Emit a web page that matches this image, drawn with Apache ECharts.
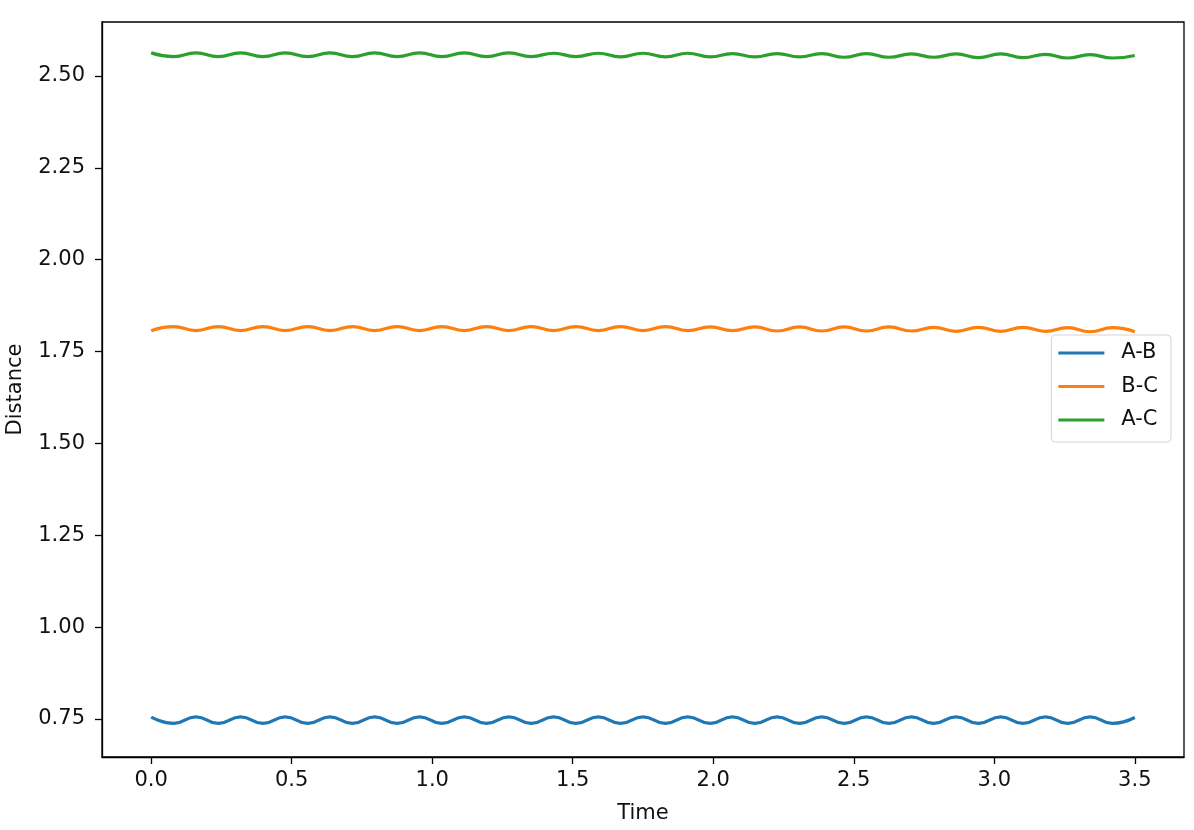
<!DOCTYPE html>
<html>
<head>
<meta charset="utf-8">
<script src="https://cdn.jsdelivr.net/npm/echarts@6/dist/echarts.min.js"></script>
<style>html,body{margin:0;padding:0;background:#fff;}#chart{width:1194px;height:830px;}</style>
</head>
<body>
<div id="chart"></div>
<script>
const time = [0.000, 0.080, 0.159, 0.239, 0.318, 0.398, 0.477, 0.557, 0.636, 0.716, 0.795, 0.875, 0.955, 1.034, 1.114, 1.193, 1.273, 1.352, 1.432, 1.511, 1.591, 1.670, 1.750, 1.830, 1.909, 1.989, 2.068, 2.148, 2.227, 2.307, 2.386, 2.466, 2.545, 2.625, 2.705, 2.784, 2.864, 2.943, 3.023, 3.102, 3.182, 3.261, 3.341, 3.420, 3.500];
const seriesNames = ["A-B", "B-C", "A-C"];
const abValues = [0.755, 0.738, 0.756, 0.738, 0.756, 0.738, 0.756, 0.738, 0.756, 0.738, 0.756, 0.738, 0.756, 0.738, 0.756, 0.738, 0.756, 0.738, 0.756, 0.738, 0.756, 0.738, 0.756, 0.738, 0.756, 0.738, 0.756, 0.738, 0.756, 0.738, 0.756, 0.738, 0.756, 0.738, 0.756, 0.738, 0.756, 0.738, 0.756, 0.738, 0.756, 0.738, 0.756, 0.738, 0.754];
const bcValues = [1.807, 1.818, 1.807, 1.818, 1.807, 1.818, 1.807, 1.818, 1.807, 1.818, 1.807, 1.818, 1.807, 1.818, 1.807, 1.818, 1.807, 1.818, 1.807, 1.818, 1.807, 1.818, 1.807, 1.818, 1.807, 1.817, 1.807, 1.817, 1.806, 1.817, 1.806, 1.817, 1.806, 1.817, 1.806, 1.816, 1.805, 1.816, 1.805, 1.816, 1.805, 1.815, 1.804, 1.815, 1.804];
const acValues = [2.563, 2.553, 2.563, 2.553, 2.563, 2.553, 2.563, 2.553, 2.563, 2.553, 2.563, 2.553, 2.563, 2.553, 2.563, 2.553, 2.563, 2.553, 2.562, 2.553, 2.562, 2.552, 2.562, 2.552, 2.562, 2.552, 2.561, 2.552, 2.561, 2.552, 2.561, 2.551, 2.561, 2.551, 2.560, 2.551, 2.560, 2.550, 2.560, 2.550, 2.559, 2.549, 2.558, 2.549, 2.556];
const xTicks = [0.0, 0.5, 1.0, 1.5, 2.0, 2.5, 3.0, 3.5];
const yTicks = [0.75, 1.00, 1.25, 1.50, 1.75, 2.00, 2.25, 2.50];
const colors = ["#1f77b4", "#ff7f0e", "#2ca02c"];

const font = "DejaVu Sans";
const chart = echarts.init(document.getElementById('chart'), null, {renderer: 'canvas'});
const allValues = [abValues, bcValues, acValues];
chart.setOption({
  animation: false,
  backgroundColor: '#fff',
  color: colors,
  grid: {left: 102, right: 10, top: 22, bottom: 73, show: true, borderColor: '#000', borderWidth: 1.3,
         backgroundColor: 'transparent', containLabel: false, outerBoundsMode: 'none'},
  legend: {
    orient: 'vertical', right: 23, top: 335,
    backgroundColor: '#fff', borderColor: '#d4d4d4', borderWidth: 1, borderRadius: 4,
    padding: [6, 13, 10, 7], itemGap: 9.5, itemWidth: 46, itemHeight: 3, icon: 'rect',
    textStyle: {fontFamily: font, fontSize: 21, color: '#111', lineHeight: 24, padding: [0, 0, 0, 12]},
    data: seriesNames
  },
  xAxis: {
    type: 'value', min: -0.175, max: 3.675,
    name: 'Time', nameLocation: 'middle', nameGap: 46,
    nameTextStyle: {fontFamily: font, fontSize: 21, color: '#111'},
    axisLine: {show: true, onZero: false, lineStyle: {color: '#000', width: 1.3}},
    axisTick: {show: true, length: 7, customValues: xTicks, lineStyle: {color: '#000', width: 1.3}},
    axisLabel: {customValues: xTicks, fontFamily: font, fontSize: 21, color: '#111', margin: 13, formatter: v => v.toFixed(1)},
    splitLine: {show: false}
  },
  yAxis: {
    type: 'value', min: 0.6466, max: 2.647,
    name: 'Distance', nameLocation: 'middle', nameGap: 76,
    nameTextStyle: {fontFamily: font, fontSize: 21, color: '#111'},
    axisLine: {show: true, onZero: false, lineStyle: {color: '#000', width: 1.3}},
    axisTick: {show: true, length: 7, customValues: yTicks, lineStyle: {color: '#000', width: 1.3}},
    axisLabel: {customValues: yTicks, fontFamily: font, fontSize: 21, color: '#111', margin: 17, formatter: v => v.toFixed(2)},
    splitLine: {show: false}
  },
  series: seriesNames.map((name, i) => ({
    name: name, type: 'line', smooth: 0.5, symbol: 'none', showSymbol: false,
    lineStyle: {width: 3.2, color: colors[i]},
    itemStyle: {color: colors[i]},
    data: time.map((t, j) => [t, allValues[i][j]])
  }))
});
</script>
</body>
</html>
